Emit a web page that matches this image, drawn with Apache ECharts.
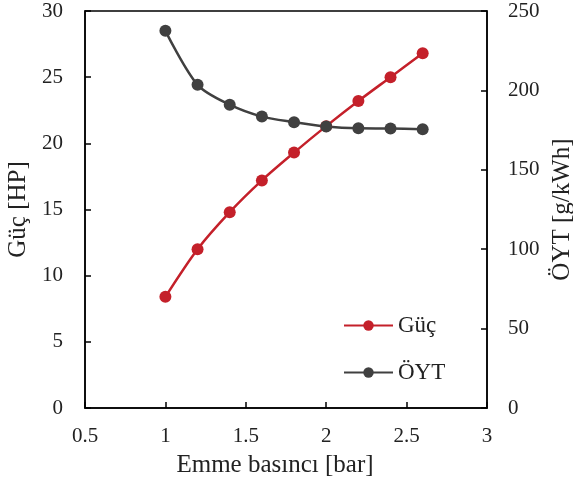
<!DOCTYPE html>
<html><head><meta charset="utf-8">
<script src="https://cdn.jsdelivr.net/npm/echarts@6/dist/echarts.min.js"></script>
<style>html,body{margin:0;padding:0;background:#fff}#c{width:573px;height:486px}</style>
</head><body><div id="c"></div>
<script>
const pressure = [1.0, 1.2, 1.4, 1.6, 1.8, 2.0, 2.2, 2.4, 2.6];
const power = [8.4, 12.0, 14.8, 17.2, 19.3, 21.3, 23.2, 25.0, 26.8];
const bsfc = [237.5, 203.5, 191, 183.5, 180, 177.2, 176.1, 176, 175.6];
const font = 'Liberation Serif, Times New Roman, serif';
const chart = echarts.init(document.getElementById('c'));
const axisLine = {show: true, lineStyle: {color: '#000', width: 1.5}};
const tick = {show: true, inside: true, length: 6, lineStyle: {color: '#000', width: 1.5}};
const nameStyle = {fontFamily: font, fontSize: 25, color: '#222'};
const labelStyle = {fontFamily: font, fontSize: 21, color: '#222'};
chart.setOption({
  animation: false,
  grid: {left: 85, right: 86, top: 11, bottom: 78, outerBoundsMode: 'none', containLabel: false,
         show: true, borderColor: '#000', borderWidth: 1.5},
  legend: {
    orient: 'vertical', left: 338, top: 309, itemWidth: 49, itemHeight: 13, itemGap: 24,
    textStyle: {fontFamily: font, fontSize: 23, color: '#222'},
    data: ['Güç', 'ÖYT']
  },
  xAxis: {
    type: 'value', min: 0.5, max: 3, interval: 0.5,
    name: 'Emme basıncı [bar]', nameLocation: 'middle', nameGap: 45,
    nameTextStyle: Object.assign({padding: [0, 22, 0, 0]}, nameStyle),
    axisLine, axisTick: tick,
    axisLabel: Object.assign({margin: 18}, labelStyle),
    splitLine: {show: false}
  },
  yAxis: [{
    type: 'value', min: 0, max: 30, interval: 5,
    name: 'Güç [HP]', nameLocation: 'middle', nameGap: 53, nameRotate: 90,
    nameTextStyle: nameStyle,
    axisLine, axisTick: tick,
    axisLabel: Object.assign({margin: 22}, labelStyle),
    splitLine: {show: false}
  }, {
    type: 'value', min: 0, max: 250, interval: 50, position: 'right',
    name: 'ÖYT [g/kWh]', nameLocation: 'middle', nameGap: 62, nameRotate: 90,
    nameTextStyle: nameStyle,
    axisLine, axisTick: tick,
    axisLabel: Object.assign({margin: 21}, labelStyle),
    splitLine: {show: false}
  }],
  series: [{
    name: 'Güç', type: 'line', smooth: 0.3, yAxisIndex: 0,
    data: pressure.map((x, i) => [x, power[i]]),
    symbol: 'circle', symbolSize: 12,
    lineStyle: {color: '#C4202A', width: 2.5},
    itemStyle: {color: '#C4202A'}
  }, {
    name: 'ÖYT', type: 'line', smooth: 0.3, yAxisIndex: 1,
    data: pressure.map((x, i) => [x, bsfc[i]]),
    symbol: 'circle', symbolSize: 12,
    lineStyle: {color: '#404040', width: 2.5},
    itemStyle: {color: '#404040'}
  }]
});
</script></body></html>
